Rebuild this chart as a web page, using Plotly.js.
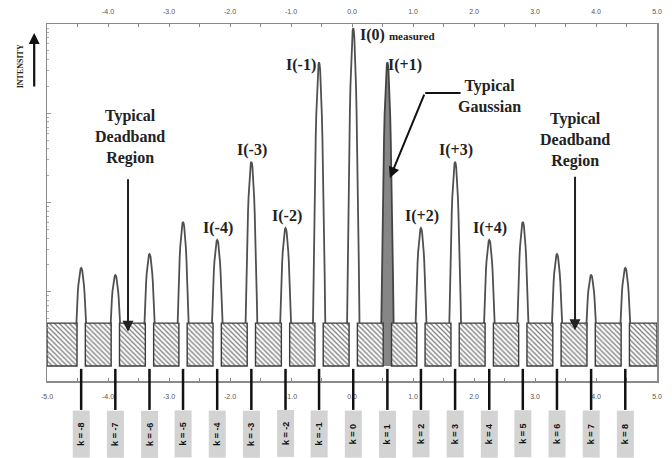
<!DOCTYPE html>
<html><head><meta charset="utf-8">
<script src="https://cdn.plot.ly/plotly-3.0.1.min.js"></script>
<style>html,body{margin:0;padding:0;background:#fff}</style>
</head><body><div id="chart" style="width:672px;height:458px"></div>
<script>
// ---- data ----
const orders = [-8,-7,-6,-5,-4,-3,-2,-1,0,1,2,3,4,5,6,7,8];
const orderLabels = ['k = -8','k = -7','k = -6','k = -5','k = -4','k = -3','k = -2','k = -1','k = 0','k = 1','k = 2','k = 3','k = 4','k = 5','k = 6','k = 7','k = 8'];
const peakX = [-4.44,-3.88,-3.32,-2.77,-2.21,-1.65,-1.09,-0.54,0.02,0.58,1.13,1.69,2.25,2.80,3.36,3.92,4.48];
const peakI = [29.0,26.9,33.1,42.6,37.3,60.4,40.8,89.9,100.0,89.9,40.8,60.4,37.3,42.6,33.1,26.9,29.0];
const peakNames = ['','','','','I(-4)','I(-3)','I(-2)','I(-1)','I(0)','I(+1)','I(+2)','I(+3)','I(+4)','','','',''];
const deadbandLevel = 12.7;
const xTickVals = [-5,-4,-3,-2,-1,0,1,2,3,4,5];
const xTickLabels = ['-5.0','-4.0','-3.0','-2.0','-1.0','0.0','1.0','2.0','3.0','4.0','5.0'];
const typicalIndex = 9; // k = +1 shaded

// ---- styling / geometry ----
const halfW = 0.11;     // half base width of a peak (x units)
const gapHalf = 0.068;  // half gap of deadband boxes around each peak
const serif = 'Liberation Serif, Times New Roman, serif';
const sans = 'Liberation Sans, Arial, sans-serif';

const traces = [];
traces.push({x:[null], y:[null], xaxis:'x', yaxis:'y', showlegend:false, hoverinfo:'skip'});
traces.push({x:[null], y:[null], xaxis:'x2', yaxis:'y', showlegend:false, hoverinfo:'skip'});

// peaks
peakX.forEach((c, i) => {
  const xs = [], ys = [];
  const n = 24;
  for (let j = 0; j <= n; j++) {
    const t = -1 + 2 * j / n;
    xs.push(c + t * halfW);
    ys.push(peakI[i] * (1 - t * t));
  }
  const shaded = i === typicalIndex;
  traces.push({
    x: xs, y: ys, xaxis:'x', yaxis:'y2', mode:'lines', fill:'tozeroy',
    fillcolor: shaded ? '#868686' : '#ffffff',
    line:{color: shaded ? '#444444' : '#505050', width:1.8},
    showlegend:false, hoverinfo:'skip', cliponaxis:false
  });
});

// deadband boxes between peaks
const leftEdges = [-5].concat(peakX.map(c => c + gapHalf));
const rightEdges = peakX.map(c => c - gapHalf).concat([5]);
traces.push({
  type:'bar', xaxis:'x', yaxis:'y3',
  x: leftEdges.map((l, i) => (l + rightEdges[i]) / 2),
  y: leftEdges.map(() => deadbandLevel),
  width: leftEdges.map((l, i) => rightEdges[i] - l),
  marker:{color:'#ffffff', line:{color:'#3c3c3c', width:1.4},
    pattern:{shape:'\\', fgcolor:'#7a7a7a', bgcolor:'#ffffff', size:3.5, solidity:0.35}},
  showlegend:false, hoverinfo:'skip'
});

const yRange = [-4.44, 101.2];
const axFont = {family: sans, size: 7, color:'#555555'};

const shapes = [];
peakX.forEach(c => {
  shapes.push({type:'line', xref:'x', yref:'paper', x0:c, x1:c, y0:0.034, y1:-0.081,
    line:{color:'#111', width:2.5}});
});
shapes.push({type:'line', xref:'x', yref:'y2', x0:1.20, x1:1.78, y0:80.8, y1:80.8, line:{color:'#111', width:2}});

const annotations = [];
peakX.forEach((c, i) => {
  annotations.push({
    x:c, xref:'x', y:-0.081, yref:'paper', yanchor:'top', xanchor:'center',
    text:'<b>' + orderLabels[i] + '</b>', textangle:-90, showarrow:false,
    bgcolor:'#d3d3d3', width:46, height:16, borderpad:0,
    font:{family:sans, size:9, color:'#111'}
  });
  const name = peakNames[i];
  if (!name) return;
  const base = {x:c, xref:'x', y:peakI[i], yref:'y2', showarrow:false,
    font:{family:serif, size:16, color:'#222'}};
  if (orders[i] === 0) {
    annotations.push(Object.assign(base, {text:'<b>' + name + ' <span style="font-size:11px">measured</span></b>',
      xanchor:'left', yanchor:'top', xshift:5, yshift:4}));
  } else if (orders[i] === 1) {
    annotations.push(Object.assign(base, {text:'<b>' + name + '</b>', xanchor:'left', yanchor:'middle', xshift:-1, yshift:-3}));
  } else if (orders[i] === -1) {
    annotations.push(Object.assign(base, {text:'<b>' + name + '</b>', xanchor:'right', yanchor:'middle', xshift:-1, yshift:-3}));
  } else {
    annotations.push(Object.assign(base, {text:'<b>' + name + '</b>', xanchor:'center', yanchor:'bottom', xshift:1, yshift:1}));
  }
});

const calloutFont = {family:serif, size:16, color:'#222'};
annotations.push({x:-3.64, xref:'x', y:67.8, yref:'y2', text:'<b>Typical<br>Deadband<br>Region</b>', showarrow:false, font:calloutFont, align:'center'});
annotations.push({x:3.66, xref:'x', y:66.9, yref:'y2', text:'<b>Typical<br>Deadband<br>Region</b>', showarrow:false, font:calloutFont, align:'center'});
annotations.push({x:2.26, xref:'x', y:79.9, yref:'y2', text:'<b>Typical<br>Gaussian</b>', showarrow:false, font:calloutFont, align:'center'});
annotations.push({x:-3.672, xref:'x', y:10.1, yref:'y2', ax:0, ay:-154, showarrow:true, arrowhead:2, arrowsize:1.1, arrowwidth:2, arrowcolor:'#222', text:''});
annotations.push({x:3.656, xref:'x', y:10.6, yref:'y2', ax:0, ay:-155, showarrow:true, arrowhead:2, arrowsize:1.1, arrowwidth:2, arrowcolor:'#222', text:''});
annotations.push({x:0.62, xref:'x', y:55.6, yref:'y2', ax:35, ay:-85, showarrow:true, arrowhead:2, arrowsize:1.1, arrowwidth:2, arrowcolor:'#111', text:''});
annotations.push({x:-0.044, xref:'paper', y:0.882, yref:'paper', xanchor:'center', yanchor:'middle', text:'<b>INTENSITY</b>', textangle:-90, showarrow:false,
  font:{family:serif, size:8, color:'#222'}});
annotations.push({x:-0.021, xref:'paper', y:0.975, yref:'paper', ax:0, ay:55, showarrow:true, arrowhead:2, arrowsize:1, arrowwidth:2.2, arrowcolor:'#111', text:''});

const layout = {
  width:672, height:458,
  margin:{l:47, r:15, t:24, b:77},
  paper_bgcolor:'#fff', plot_bgcolor:'#fff',
  font:{family:sans, color:'#555555'},
  showlegend:false, barmode:'overlay',
  xaxis:{range:[-5,5], tickvals:xTickVals, ticktext:xTickLabels, ticks:'inside', ticklen:3, tickcolor:'#888',
    minor:{dtick:0.5, ticks:'inside', ticklen:3, tickcolor:'#888'},
    showline:true, linecolor:'#8a8a8a', linewidth:1.5, showgrid:false, zeroline:false,
    tickfont:axFont, ticklabelstandoff:8, fixedrange:true},
  xaxis2:{overlaying:'x', side:'top', range:[-5,5], tickvals:xTickVals.slice(1), ticktext:xTickLabels.slice(1),
    ticks:'inside', ticklen:3, tickcolor:'#888', minor:{dtick:0.5, ticks:'inside', ticklen:3, tickcolor:'#888'},
    showline:true, linecolor:'#8a8a8a', linewidth:1.5, showgrid:false, zeroline:false,
    tickfont:axFont, ticklabelstandoff:6},
  yaxis:{type:'log', range:[0,4], autorange:false, ticks:'inside', ticklen:4, tickcolor:'#999', dtick:1,
    minor:{ticks:'inside', ticklen:2, tickcolor:'#aaa', showgrid:false},
    showticklabels:false, showline:true, linecolor:'#8a8a8a', linewidth:1.5, mirror:true, showgrid:false, zeroline:false},
  yaxis2:{overlaying:'y', range:yRange, visible:false, showgrid:false, zeroline:false},
  yaxis3:{overlaying:'y', range:yRange, visible:false, showgrid:false, zeroline:false},
  shapes:shapes,
  annotations:annotations
};

Plotly.newPlot('chart', traces, layout, {staticPlot:true, displayModeBar:false});
</script>
</body></html>
